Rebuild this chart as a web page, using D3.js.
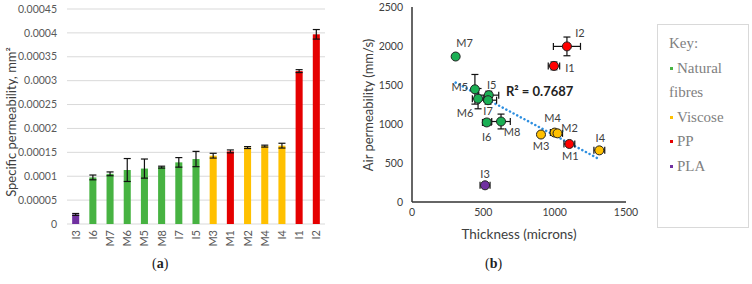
<!DOCTYPE html>
<html>
<head>
<meta charset="utf-8">
<script src="https://cdn.jsdelivr.net/npm/d3@7"></script>
<style>
  body { margin: 0; background: #fff; }
  text { font-family: Lato, "Liberation Sans", sans-serif; }
</style>
</head>
<body>
<script>
// (a) bar chart data
const barNames = ["I3", "I6", "M7", "M6", "M5", "M8", "I7", "I5", "M3", "M1", "M2", "M4", "I4", "I1", "I2"];
const barValues = [0.00002, 0.0000975, 0.000105, 0.000113, 0.000116, 0.000119, 0.000129, 0.000136, 0.000143, 0.000152, 0.00016, 0.000163, 0.000164, 0.00032, 0.000397];
const barErrors = [0.000002, 0.000005, 0.000004, 0.000024, 0.00002, 0.000002, 0.00001, 0.000016, 0.000005, 0.000003, 0.000002, 0.000002, 0.000005, 0.000003, 0.00001];
const barGroups = ["PLA", "NF", "NF", "NF", "NF", "NF", "NF", "NF", "V", "PP", "V", "V", "V", "PP", "PP"];
const barTicks = [0, 0.00005, 0.0001, 0.00015, 0.0002, 0.00025, 0.0003, 0.00035, 0.0004, 0.00045];

// (b) scatter data
const ptNames = ["M7", "M5", "M6", "I5", "I7", "I6", "M8", "M4", "M2", "M3", "M1", "I4", "I1", "I2", "I3"];
const ptThick = [306, 441, 463, 538, 533, 524, 624, 1000, 1020, 904, 1103, 1313, 995, 1086, 512];
const ptAirPerm = [1865, 1445, 1325, 1370, 1305, 1020, 1032, 890, 880, 865, 744, 662, 1745, 1995, 214];
const ptThickErr = [0, 0, 40, 70, 60, 30, 65, 30, 35, 15, 38, 38, 40, 95, 35];
const ptAirErr = [0, 190, 130, 50, 50, 40, 95, 30, 20, 20, 30, 30, 50, 120, 20];
const ptGroups = ["NF", "NF", "NF", "NF", "NF", "NF", "NF", "V", "V", "V", "PP", "V", "PP", "PP", "PLA"];
const fitExclude = ["I1", "I2", "I3"];
const xTicks = [0, 500, 1000, 1500];
const yTicks = [0, 500, 1000, 1500, 2000, 2500];

const keyLabels = ["Natural", "Viscose", "PP", "PLA"];
const keyGroups = ["NF", "V", "PP", "PLA"];

const barColor = { NF: "#47b342", V: "#ffc000", PP: "#e50000", PLA: "#7030a0" };
const ptColor = { NF: "#1aaf54", V: "#ffc000", PP: "#ff0000", PLA: "#7030a0" };

// label offsets beside each scatter point
const labelOffsets = {
  M7: [9, -13], M5: [-15, -2], M6: [-13, 14], I5: [3, -10], I7: [0, 11], I6: [0, 15],
  M8: [11, 11], M4: [-2, -14], M2: [12, -5], M3: [0, 12], M1: [1, 12], I4: [1, -12],
  I1: [16, 2], I2: [13, -13], I3: [0, -11]
};

const svg = d3.select("body").append("svg").attr("width", 752).attr("height", 284);

// ---------- (a) ----------
const x = d3.scaleBand().domain(barNames).range([67, 325]).paddingInner(0.59).paddingOuter(0.3);
const y = d3.scaleLinear().domain([0, 0.00045]).range([224, 9]);

const gA = svg.append("g");
gA.selectAll("line.grid").data(barTicks).enter().append("line")
  .attr("x1", 67).attr("x2", 325)
  .attr("y1", d => y(d)).attr("y2", d => y(d))
  .attr("stroke", "#d9d9d9").attr("stroke-width", 1);

gA.selectAll("text.ytick").data(barTicks).enter().append("text")
  .attr("x", 57).attr("y", d => y(d)).attr("dy", "0.35em")
  .attr("text-anchor", "end").attr("font-size", 10.5).attr("fill", "#595959")
  .text(d => d === 0 ? "0" : d3.format(".5~f")(d));

const bars = barNames.map((n, i) => ({ n, v: barValues[i], e: barErrors[i], g: barGroups[i] }));
gA.selectAll("rect.bar").data(bars).enter().append("rect")
  .attr("x", d => x(d.n)).attr("width", x.bandwidth())
  .attr("y", d => y(d.v)).attr("height", d => y(0) - y(d.v))
  .attr("fill", d => barColor[d.g]);

const eb = gA.selectAll("g.err").data(bars).enter().append("g")
  .attr("stroke", "#111").attr("stroke-width", 1.2);
eb.append("line")
  .attr("x1", d => x(d.n) + x.bandwidth() / 2).attr("x2", d => x(d.n) + x.bandwidth() / 2)
  .attr("y1", d => y(d.v - d.e)).attr("y2", d => y(d.v + d.e));
eb.append("line")
  .attr("x1", d => x(d.n)).attr("x2", d => x(d.n) + x.bandwidth())
  .attr("y1", d => y(d.v - d.e)).attr("y2", d => y(d.v - d.e));
eb.append("line")
  .attr("x1", d => x(d.n)).attr("x2", d => x(d.n) + x.bandwidth())
  .attr("y1", d => y(d.v + d.e)).attr("y2", d => y(d.v + d.e));

gA.selectAll("text.xtick").data(barNames).enter().append("text")
  .attr("transform", d => `translate(${x(d) + x.bandwidth() / 2 + 4},230) rotate(-90)`)
  .attr("text-anchor", "end").attr("font-size", 11).attr("fill", "#595959")
  .text(d => d);

gA.append("text")
  .attr("transform", "translate(16,122) rotate(-90)")
  .attr("text-anchor", "middle").attr("font-size", 13).attr("fill", "#404040")
  .text("Specific permeability, mm²");

svg.append("text").attr("x", 152).attr("y", 268)
  .style("font-family", "'Liberation Serif', serif").attr("font-size", 14).attr("fill", "#222")
  .html("(<tspan font-weight='bold'>a</tspan>)");

// ---------- (b) ----------
const sx = d3.scaleLinear().domain([0, 1500]).range([412, 626]);
const sy = d3.scaleLinear().domain([0, 2500]).range([202, 7]);
const gB = svg.append("g");

gB.selectAll("text.sy").data(yTicks).enter().append("text")
  .attr("x", 403).attr("y", d => sy(d)).attr("dy", "0.35em")
  .attr("text-anchor", "end").attr("font-size", 10.5).attr("fill", "#404040")
  .text(d => d);
gB.selectAll("text.sx").data(xTicks).enter().append("text")
  .attr("x", d => sx(d)).attr("y", 216)
  .attr("text-anchor", "middle").attr("font-size", 10.5).attr("fill", "#404040")
  .text(d => d);

gB.append("line").attr("x1", sx(0)).attr("x2", sx(0)).attr("y1", sy(2500)).attr("y2", sy(0))
  .attr("stroke", "#333").attr("stroke-width", 1.5);
gB.append("line").attr("x1", sx(0)).attr("x2", sx(1500)).attr("y1", sy(0)).attr("y2", sy(0))
  .attr("stroke", "#333").attr("stroke-width", 1.5);

const pts = ptNames.map((n, i) => ({
  n, x: ptThick[i], y: ptAirPerm[i], ex: ptThickErr[i], ey: ptAirErr[i], g: ptGroups[i]
}));

// linear trend (least squares) over points not excluded
const fit = pts.filter(p => !fitExclude.includes(p.n));
const mx = d3.mean(fit, p => p.x), my = d3.mean(fit, p => p.y);
const slope = d3.sum(fit, p => (p.x - mx) * (p.y - my)) / d3.sum(fit, p => (p.x - mx) ** 2);
const icpt = my - slope * mx;
const [fx0, fx1] = d3.extent(fit, p => p.x);
gB.append("line")
  .attr("x1", sx(fx0)).attr("y1", sy(icpt + slope * fx0))
  .attr("x2", sx(fx1)).attr("y2", sy(icpt + slope * fx1))
  .attr("stroke", "#2e8fe0").attr("stroke-width", 2.5)
  .attr("stroke-dasharray", "0.1,4").attr("stroke-linecap", "round");

const cap = 3.5;
const pe = gB.selectAll("g.perr").data(pts).enter().append("g")
  .attr("stroke", "#111").attr("stroke-width", 1.2);
pe.filter(d => d.ey > 0).each(function (d) {
  const g = d3.select(this), cx = sx(d.x), y0 = sy(d.y - d.ey), y1 = sy(d.y + d.ey);
  g.append("line").attr("x1", cx).attr("x2", cx).attr("y1", y0).attr("y2", y1);
  g.append("line").attr("x1", cx - cap).attr("x2", cx + cap).attr("y1", y0).attr("y2", y0);
  g.append("line").attr("x1", cx - cap).attr("x2", cx + cap).attr("y1", y1).attr("y2", y1);
});
pe.filter(d => d.ex > 0).each(function (d) {
  const g = d3.select(this), cy = sy(d.y), x0 = sx(d.x - d.ex), x1 = sx(d.x + d.ex);
  g.append("line").attr("x1", x0).attr("x2", x1).attr("y1", cy).attr("y2", cy);
  g.append("line").attr("x1", x0).attr("x2", x0).attr("y1", cy - cap).attr("y2", cy + cap);
  g.append("line").attr("x1", x1).attr("x2", x1).attr("y1", cy - cap).attr("y2", cy + cap);
});

gB.selectAll("circle.pt").data(pts).enter().append("circle")
  .attr("cx", d => sx(d.x)).attr("cy", d => sy(d.y)).attr("r", 4.5)
  .attr("fill", d => ptColor[d.g]).attr("stroke", "#222").attr("stroke-width", 1);

gB.selectAll("text.plab").data(pts).enter().append("text")
  .attr("x", d => sx(d.x) + labelOffsets[d.n][0])
  .attr("y", d => sy(d.y) + labelOffsets[d.n][1])
  .attr("dy", "0.35em").attr("text-anchor", "middle")
  .attr("font-size", 11).attr("fill", "#404040")
  .text(d => d.n);

gB.append("text").attr("x", 506).attr("y", 91).attr("dy", "0.35em")
  .attr("font-size", 13).attr("font-weight", "bold").attr("fill", "#222")
  .html("R² = " + d3.format(".4f")(0.7687));

gB.append("text")
  .attr("transform", "translate(373,105) rotate(-90)")
  .attr("text-anchor", "middle").attr("font-size", 13).attr("fill", "#404040")
  .text("Air permeability (mm/s)");
gB.append("text").attr("x", 519).attr("y", 239)
  .attr("text-anchor", "middle").attr("font-size", 13.5).attr("fill", "#404040")
  .text("Thickness (microns)");

svg.append("text").attr("x", 485).attr("y", 268)
  .style("font-family", "'Liberation Serif', serif").attr("font-size", 14).attr("fill", "#222")
  .html("(<tspan font-weight='bold'>b</tspan>)");

// ---------- key ----------
const key = svg.append("g").style("font-family", "'Liberation Serif', serif");
key.append("rect").attr("x", 657.5).attr("y", 24.5).attr("width", 91).attr("height", 203)
  .attr("fill", "#fff").attr("stroke", "#d9d9d9");
key.append("text").attr("x", 669).attr("y", 48).attr("font-size", 15).attr("fill", "#7f7f7f")
  .style("font-family", "'Liberation Serif', serif").text("Key:");
const keyY = [73, 122, 146, 171];
keyLabels.forEach((lab, i) => {
  key.append("rect").attr("x", 670).attr("y", keyY[i] - 6).attr("width", 3).attr("height", 3)
    .attr("fill", barColor[keyGroups[i]]);
  key.append("text").attr("x", 677).attr("y", keyY[i]).attr("font-size", 15).attr("fill", "#7f7f7f")
    .style("font-family", "'Liberation Serif', serif").text(lab);
});
key.append("text").attr("x", 669).attr("y", 97).attr("font-size", 15).attr("fill", "#7f7f7f")
  .style("font-family", "'Liberation Serif', serif").text("fibres");
</script>
</body>
</html>
